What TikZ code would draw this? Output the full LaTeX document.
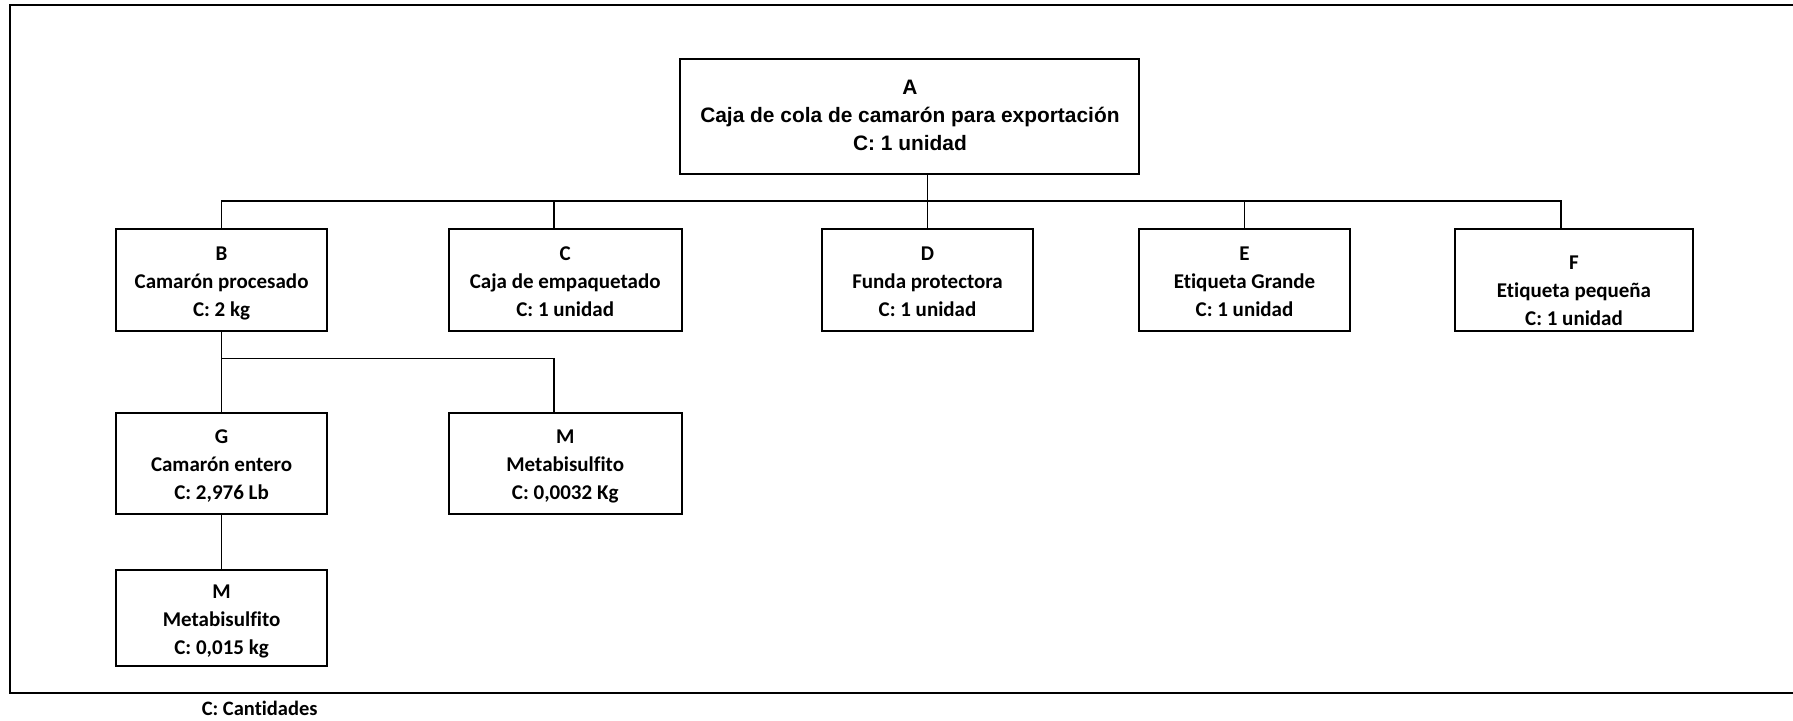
\documentclass[tikz,border=0pt]{standalone}
\usepackage{fontspec}
\setmainfont{Carlito}[Ligatures={NoCommon}]
\newfontfamily\arialfont{Liberation Sans}
\begin{document}
\begin{tikzpicture}[x=1pt,y=-1pt,
  box/.style={draw,line width=2pt,inner sep=0pt,align=center,
    text height=77.2pt,text depth=5pt,
    font=\bfseries\fontsize{21}{28}\selectfont},
  topbox/.style={box,text height=73pt,text depth=5pt,
    font=\arialfont\bfseries\fontsize{20.9}{28}\selectfont},
  link/.style={line width=1.6pt},
  frame/.style={line width=2pt}]
\useasboundingbox (0,0) rectangle (1793,720);

% outer frame (open on the right)
\draw[frame] (1793,4.5) -- (9.8,4.5) -- (9.8,693.3) -- (1793,693.3);

% top item
\node[topbox,minimum width=459,minimum height=115] (A) at (909.9,116.5)
  {A\\Caja de cola de camarón para exportación\\C: 1 unidad};

% first level
\node[box,minimum width=211,minimum height=102.3] (B) at (221.6,279.9)
  {B\\Camarón procesado\\C: 2 kg};
\node[box,minimum width=233,minimum height=102.3] (C) at (565.2,279.9)
  {C\\Caja de empaquetado\\C: 1 unidad};
\node[box,minimum width=211,minimum height=102.3] (D) at (927.5,279.9)
  {D\\Funda protectora\\C: 1 unidad};
\node[box,minimum width=211,minimum height=102.3] (E) at (1244.5,279.9)
  {E\\Etiqueta Grande\\C: 1 unidad};
\node[box,text height=95pt,text depth=4.8pt,
  minimum width=238.6,minimum height=102.3] (F) at (1574,279.9)
  {F\\Etiqueta pequeña\\C: 1 unidad};

% second level
\node[box,minimum width=211,minimum height=100.7] (G) at (221.6,463.7)
  {G\\Camarón entero\\C: 2,976 Lb};
\node[box,minimum width=233,minimum height=100.7] (M1) at (565.2,463.7)
  {M\\Metabisulfito\\C: 0,0032 Kg};

% third level
\node[box,minimum width=211,minimum height=96] (M2) at (221.6,618)
  {M\\Metabisulfito\\C: 0,015 kg};

% legend
\node[font=\bfseries\fontsize{20.5}{24}\selectfont,inner sep=0pt] (legend) at (259.7,708.5) {C: Cantidades};

% connector rails
\coordinate (busY) at (0,200.7);
\coordinate (busTwoY) at (0,358.3);
\coordinate (cTop) at ([xshift=-11pt]C.north);
\coordinate (fTop) at ([xshift=-13pt]F.north);
\coordinate (mTop) at ([xshift=-11pt]M1.north);

\draw[link] (A.south -| D.north) -- (D.north);
\draw[link] (B.north) |- (fTop |- busY) -- (fTop);
\draw[link] (cTop) -- (cTop |- busY);
\draw[link] (E.north) -- (E.north |- busY);

\draw[link] (B.south) -- (G.north);
\draw[link] (B.south |- busTwoY) -| (mTop);
\draw[link] (G.south) -- (M2.north);
\end{tikzpicture}
\end{document}
